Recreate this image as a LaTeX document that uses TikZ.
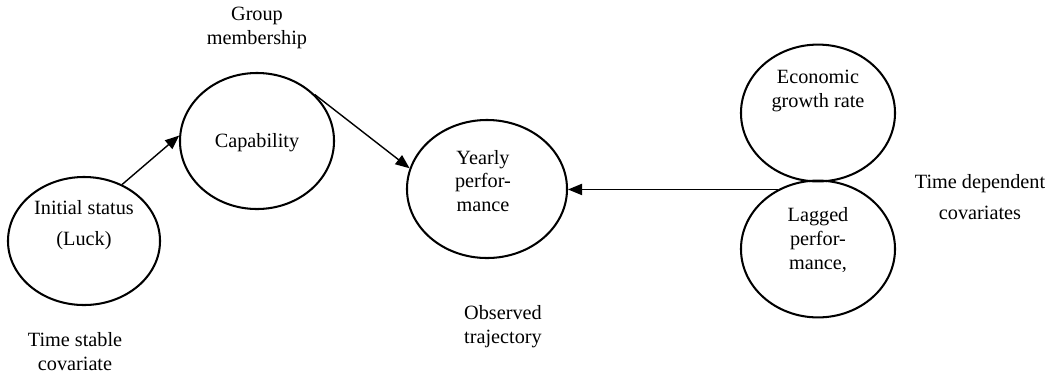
\documentclass[tikz,border=0pt]{standalone}
\usepackage{fontspec}
\setmainfont{Liberation Serif}
\usetikzlibrary{arrows.meta,shapes.geometric}

\begin{document}
\begin{tikzpicture}[x=0.025cm, y=-0.025cm, >={Triangle[length=10pt,width=8pt]},
    every node/.style={font=\fontsize{14.4}{17}\selectfont},
    blob/.style={ellipse, draw, line width=1.45pt, inner sep=0pt},
    lbl/.style={align=center, inner sep=0pt}]
    \useasboundingbox (0,0) rectangle (1055,378);
    \node[blob, minimum width=3.8cm, minimum height=3.2cm] (init) at (84,241) {};
    \node[blob, minimum width=3.85cm, minimum height=3.4cm] (cap) at (257,141) {};
    \node[blob, minimum width=4.0cm, minimum height=3.45cm] (year) at (487,189) {};
    \node[blob, minimum width=3.85cm, minimum height=3.42cm] (econ) at (818,113) {};
    \node[blob, minimum width=3.85cm, minimum height=3.42cm] (lag) at (818,249) {};
    \draw[->, line width=1pt] (init.56) -- (cap.176);
    \draw[->, line width=1pt] (cap.39) -- (year.165);
    \draw[->, line width=1pt] (lag.124) -- (lag.124 -| year.east);
    \node[lbl] (initTxt) at (84,225) {Initial status\\[5pt](Luck)};
    \node[lbl] (capTxt) at (257,143) {Capability};
    \node[lbl] (yearTxt) at (483,181) {Yearly\\perfor-\\mance};
    \node[lbl] (econTxt) at (818,91) {Economic\\growth rate};
    \node[lbl] (lagTxt) at (818,240) {Lagged\\perfor-\\mance,};
    \node[lbl] (groupTxt) at (257,28) {Group\\membership};
    \node[lbl] (stableTxt) at (75,352) {Time stable\\covariate};
    \node[lbl] (obsTxt) at (503,327) {Observed\\trajectory};
    \node[lbl] (depTxt) at (980,197) {Time dependent\\[5pt]covariates};
\end{tikzpicture}
\end{document}
